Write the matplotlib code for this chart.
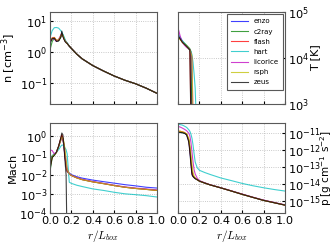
import matplotlib
matplotlib.use('Agg')
import matplotlib.pyplot as plt

codes = ['enzo', 'c2ray', 'flash', 'hart', 'licorice', 'rsph', 'zeus']
colors = ['b', 'g', 'r', 'c', 'm', 'y', 'k']

# radius grid, inner region (differs per code) and outer region
r_head = [0.0, 0.02, 0.04, 0.06, 0.08, 0.10, 0.11, 0.12, 0.13, 0.14, 0.15, 0.16]
r_tail = [0.18, 0.2, 0.25, 0.3, 0.4, 0.5, 0.6, 0.7, 0.8, 0.9, 1.0]

# number density [cm^-3]
n_head = {
    'enzo':     [2.0, 2.8, 2.9, 2.3, 2.4, 3.2, 4.2, 3.5, 2.8, 2.3, 2.1, 1.9],
    'c2ray':    [1.2, 2.2, 2.8, 2.3, 2.3, 3.0, 3.8, 3.6, 2.9, 2.4, 2.1, 1.9],
    'flash':    [2.1, 2.9, 3.0, 2.4, 2.4, 3.3, 4.0, 3.4, 2.8, 2.3, 2.1, 1.9],
    'hart':     [3.0, 5.0, 6.2, 6.3, 6.0, 5.0, 4.4, 3.8, 3.2, 2.6, 2.2, 2.0],
    'licorice': [2.3, 2.7, 2.6, 2.2, 2.6, 3.5, 4.0, 3.3, 2.7, 2.3, 2.1, 1.9],
    'rsph':     [2.2, 2.8, 2.9, 2.4, 2.5, 3.3, 3.9, 3.5, 2.8, 2.3, 2.1, 1.9],
    'zeus':     [2.0, 2.7, 2.8, 2.2, 2.3, 3.0, 4.8, 3.2, 2.6, 2.2, 2.0, 1.9],
}
n_tail = [1.55, 1.3, 0.85, 0.6, 0.36, 0.24, 0.165, 0.12, 0.092, 0.066, 0.045]

# temperature [K]
T_head = {
    'enzo':     [32000, 27000, 23000, 20000, 18000, 16000, 15000, 13000, 300, 200, 200, 200],
    'c2ray':    [30000, 26000, 23000, 21000, 19000, 17000, 16000, 14000, 500, 200, 200, 200],
    'flash':    [31000, 26000, 22000, 20000, 18000, 16000, 15000, 600, 200, 200, 200, 200],
    'hart':     [35000, 28000, 24000, 21000, 18000, 16000, 15000, 14000, 12000, 8000, 4500, 2200],
    'licorice': [45000, 30000, 22000, 19000, 17000, 16000, 15000, 13000, 10000, 400, 200, 200],
    'rsph':     [28000, 25000, 22000, 20000, 18000, 16000, 15000, 13000, 11000, 500, 200, 200],
    'zeus':     [30000, 26000, 22000, 20000, 18000, 16000, 15000, 400, 200, 200, 200, 200],
}
T_tail = [100, 100, 100, 100, 100, 100, 100, 100, 100, 100, 100]

# Mach number
mach_head = {
    'enzo':     [0.03, 0.09, 0.12, 0.15, 0.3, 0.7, 1.0, 0.8, 0.3, 0.08, 0.03, 0.015],
    'c2ray':    [0.015, 0.08, 0.11, 0.15, 0.3, 0.7, 1.1, 0.7, 0.3, 0.1, 0.03, 0.015],
    'flash':    [0.025, 0.09, 0.12, 0.15, 0.3, 0.8, 1.2, 0.8, 0.3, 0.08, 0.03, 0.015],
    'hart':     [0.05, 0.1, 0.12, 0.15, 0.2, 0.3, 0.35, 0.35, 0.3, 0.25, 0.2, 0.12],
    'licorice': [0.2, 0.18, 0.12, 0.15, 0.3, 0.6, 0.9, 0.7, 0.4, 0.15, 0.05, 0.02],
    'rsph':     [0.03, 0.09, 0.11, 0.14, 0.3, 0.6, 0.9, 0.8, 0.5, 0.2, 0.06, 0.02],
    'zeus':     [0.02, 0.08, 0.1, 0.15, 0.3, 0.8, 1.5, 1.2, 0.3, 0.05, 0.01, 1e-6],
}
mach_tail = {
    'enzo':     [0.012, 0.01, 0.0078, 0.0066, 0.0052, 0.0043, 0.0036, 0.003, 0.0026, 0.0022, 0.002],
    'c2ray':    [0.011, 0.009, 0.0068, 0.0055, 0.0042, 0.0034, 0.0027, 0.0022, 0.0019, 0.0017, 0.0015],
    'flash':    [0.011, 0.009, 0.0068, 0.0055, 0.0042, 0.0034, 0.0027, 0.0022, 0.0019, 0.0017, 0.0015],
    'hart':     [0.004, 0.0035, 0.0028, 0.0024, 0.0018, 0.0015, 0.0012, 0.001, 0.0009, 0.0008, 0.00068],
    'licorice': [0.011, 0.009, 0.007, 0.0057, 0.0044, 0.0035, 0.0028, 0.0023, 0.002, 0.0018, 0.0016],
    'rsph':     [0.011, 0.009, 0.0068, 0.0055, 0.0042, 0.0034, 0.0027, 0.0022, 0.0019, 0.0017, 0.0015],
    'zeus':     [1e-6, 1e-6, 1e-6, 1e-6, 1e-6, 1e-6, 1e-6, 1e-6, 1e-6, 1e-6, 1e-6],
}

# pressure [g cm^-1 s^-2]
p_head = {
    'enzo':     [1.2e-11, 1.2e-11, 1.1e-11, 1.0e-11, 8e-12, 3.5e-12, 1e-12, 2e-13, 4e-14, 2.8e-14, 2.4e-14, 2.1e-14],
    'c2ray':    [1.2e-11, 1.2e-11, 1.1e-11, 1.0e-11, 8.5e-12, 4e-12, 1.5e-12, 3e-13, 6e-14, 3e-14, 2.5e-14, 2.2e-14],
    'flash':    [1.3e-11, 1.3e-11, 1.2e-11, 1.1e-11, 9e-12, 4e-12, 1.2e-12, 2.5e-13, 5e-14, 3e-14, 2.5e-14, 2.2e-14],
    'hart':     [3.3e-11, 3.2e-11, 3.0e-11, 2.6e-11, 2.2e-11, 1.6e-11, 1.3e-11, 9e-12, 5e-12, 2e-12, 6e-13, 2e-13],
    'licorice': [2.5e-11, 2.3e-11, 2.0e-11, 1.7e-11, 1.4e-11, 1e-11, 7e-12, 3e-12, 8e-13, 2e-13, 7e-14, 4e-14],
    'rsph':     [1.3e-11, 1.3e-11, 1.2e-11, 1.1e-11, 9e-12, 5e-12, 2e-12, 6e-13, 1.5e-13, 5e-14, 3e-14, 2.4e-14],
    'zeus':     [1.1e-11, 1.1e-11, 1.05e-11, 1.0e-11, 8e-12, 3e-12, 8e-13, 1.5e-13, 3.5e-14, 2.8e-14, 2.4e-14, 2.1e-14],
}
p_tail = {c: [1.8e-14, 1.5e-14, 1.15e-14, 9e-15, 6e-15, 3.9e-15, 2.5e-15, 1.65e-15, 1.1e-15, 8e-16, 5.8e-16]
          for c in codes}
p_tail['hart'] = [9e-14, 6.5e-14, 4.8e-14, 3.7e-14, 2.3e-14, 1.6e-14, 1.1e-14, 8e-15, 6.1e-15, 4.8e-15, 3.9e-15]
p_tail['licorice'] = [2.2e-14, 1.6e-14, 1.2e-14, 9.2e-15, 6.1e-15, 4e-15, 2.6e-15, 1.7e-15, 1.15e-15, 8.3e-16, 6e-16]

r = r_head + r_tail

plt.rcParams['font.size'] = 8.2
fig = plt.figure(figsize=(3.36, 2.52), dpi=100)
ax_n = fig.add_axes([0.149, 0.587, 0.318, 0.365])
ax_T = fig.add_axes([0.530, 0.587, 0.318, 0.365])
ax_m = fig.add_axes([0.149, 0.155, 0.318, 0.357])
ax_p = fig.add_axes([0.530, 0.155, 0.318, 0.357])

for code, col in zip(codes, colors):
    ax_n.plot(r, n_head[code] + n_tail, color=col, lw=0.8, alpha=0.75, label=code)
    ax_T.plot(r, T_head[code] + T_tail, color=col, lw=0.8, alpha=0.75, label=code)
    ax_m.plot(r, mach_head[code] + mach_tail[code], color=col, lw=0.8, alpha=0.75, label=code)
    ax_p.plot(r, p_head[code] + p_tail[code], color=col, lw=0.8, alpha=0.75, label=code)

for ax in [ax_n, ax_T, ax_m, ax_p]:
    ax.set_yscale('log')
    ax.set_xlim(0, 1)
    ax.set_xticks([0.0, 0.2, 0.4, 0.6, 0.8, 1.0])
    ax.grid(True, linestyle=':', color='0.72', lw=0.6)
    ax.tick_params(direction='in', length=2.5, pad=2, labelsize=8.2)
    ax.tick_params(which='minor', length=0)
    for s in ax.spines.values():
        s.set_color('0.35')

ax_n.set_ylim(0.02, 20)
ax_n.set_yticks([0.1, 1, 10])
ax_n.set_ylabel('n [cm$^{-3}$]', labelpad=1)
ax_n.tick_params(labelbottom=False)

ax_T.set_ylim(1e3, 1e5)
ax_T.set_yticks([1e3, 1e4, 1e5])
ax_T.yaxis.tick_right()
ax_T.yaxis.set_label_position('right')
ax_T.set_ylabel('T [K]', labelpad=1)
ax_T.tick_params(labelbottom=False)

ax_m.set_ylim(1e-4, 5)
ax_m.set_yticks([1e-4, 1e-3, 1e-2, 1e-1, 1])
ax_m.set_ylabel('Mach', labelpad=1)
ax_m.set_xlabel('$r/L_{box}$', math_fontfamily='cm', labelpad=2)

ax_p.set_ylim(2e-16, 4e-11)
ax_p.set_yticks([1e-15, 1e-14, 1e-13, 1e-12, 1e-11])
ax_p.yaxis.tick_right()
ax_p.yaxis.set_label_position('right')
ax_p.set_ylabel('p [g cm$^{-1}$ s$^{-2}$]', fontsize=7.5, labelpad=-2)
ax_p.set_xlabel('$r/L_{box}$', math_fontfamily='cm', labelpad=2)

leg = ax_T.legend(loc='upper right', fontsize=5, fancybox=False, framealpha=1,
                  handlelength=2.4, labelspacing=0.6, borderpad=0.6,
                  borderaxespad=0.3)
leg.get_frame().set_edgecolor('0.35')
leg.get_frame().set_linewidth(0.8)

fig.savefig('out.png', dpi=100)
